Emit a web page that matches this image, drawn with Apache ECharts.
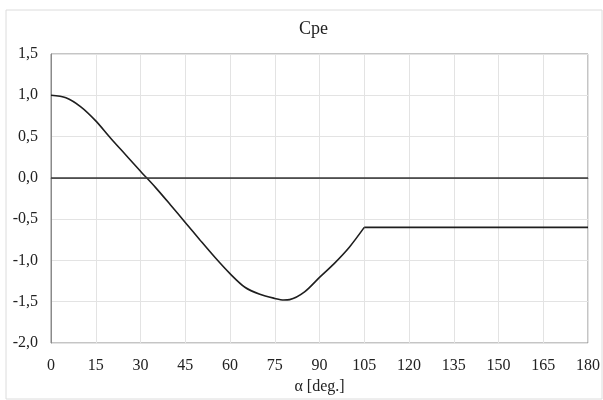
<!DOCTYPE html>
<html>
<head>
<meta charset="utf-8">
<script src="https://cdn.jsdelivr.net/npm/echarts@6/dist/echarts.min.js"></script>
<style>
	html, body { margin: 0; padding: 0; background: #fff; }
	#main { width: 603px; height: 400px; }
</style>
</head>
<body>
<div id="main"></div>
<script>
	// angle alpha [deg] and pressure coefficient
	var alpha = [0, 5, 10, 15, 20, 25, 30, 35, 40, 45, 50, 55, 60, 65, 70, 75, 78, 80, 85, 90, 95, 100, 105];
	var cpe = [1.0, 0.97, 0.86, 0.69, 0.48, 0.28, 0.08, -0.115, -0.325, -0.54, -0.755, -0.965, -1.16, -1.325, -1.41, -1.46, -1.48, -1.475, -1.38, -1.205, -1.035, -0.84, -0.6];
	// constant part after flow separation
	var flatAlpha = [105, 180];
	var flatCpe = [-0.6, -0.6];
	var xTicks = [0, 15, 30, 45, 60, 75, 90, 105, 120, 135, 150, 165, 180];
	var yTicks = [-2.0, -1.5, -1.0, -0.5, 0.0, 0.5, 1.0, 1.5];

	var points = alpha.map(function(a, i){ return [a, cpe[i]]; });
	var flatPoints = flatAlpha.map(function(a, i){ return [a, flatCpe[i]]; });
	var fontFam = '"Liberation Serif", "DejaVu Serif", serif';
	var lineStyle = { color: '#1e1e1e', width: 1.6 };

	var myChart = echarts.init(document.getElementById('main'));
	myChart.setOption({
		animation: false,
		backgroundColor: '#fff',
		title: {
			text: 'Cpe',
			left: 294,
			top: 15,
			textStyle: { fontFamily: fontFam, fontSize: 18, fontWeight: 'normal', color: '#222' }
		},
		graphic: [{
			type: 'rect',
			shape: { x: 6, y: 10, width: 596, height: 389 },
			style: { fill: 'none', stroke: '#dcdcdc', lineWidth: 1 },
			silent: true
		}],
		grid: {
			left: 51, right: 12, top: 54, bottom: 57,
			show: true, borderColor: '#8a8a8a', borderWidth: 1
		},
		xAxis: {
			type: 'value',
			min: xTicks[0],
			max: xTicks[xTicks.length - 1],
			interval: 15,
			name: 'α [deg.]',
			nameLocation: 'middle',
			nameGap: 34,
			nameTextStyle: { fontFamily: fontFam, fontSize: 16, color: '#222' },
			axisLine: { show: true, lineStyle: { color: '#8a8a8a' } },
			axisTick: { show: false },
			splitLine: { show: true, lineStyle: { color: '#e3e3e3' } },
			axisLabel: { fontFamily: fontFam, fontSize: 16, color: '#222', margin: 15 }
		},
		yAxis: {
			type: 'value',
			min: yTicks[0],
			max: yTicks[yTicks.length - 1],
			interval: 0.5,
			axisLine: { show: true, onZero: false, lineStyle: { color: '#8a8a8a' } },
			axisTick: { show: false },
			splitLine: { show: true, lineStyle: { color: '#e3e3e3' } },
			axisLabel: {
				fontFamily: fontFam, fontSize: 16, color: '#222', margin: 13,
				formatter: function(v){ return v.toFixed(1).replace('.', ','); }
			}
		},
		series: [{
			type: 'line',
			data: points,
			symbol: 'none',
			smooth: 0.3,
			lineStyle: lineStyle,
			markLine: {
				silent: true,
				symbol: 'none',
				label: { show: false },
				lineStyle: { color: '#3a3a3a', width: 1.5, type: 'solid' },
				data: [{ yAxis: 0 }]
			}
		}, {
			type: 'line',
			data: flatPoints,
			symbol: 'none',
			lineStyle: lineStyle
		}]
	});
</script>
</body>
</html>
